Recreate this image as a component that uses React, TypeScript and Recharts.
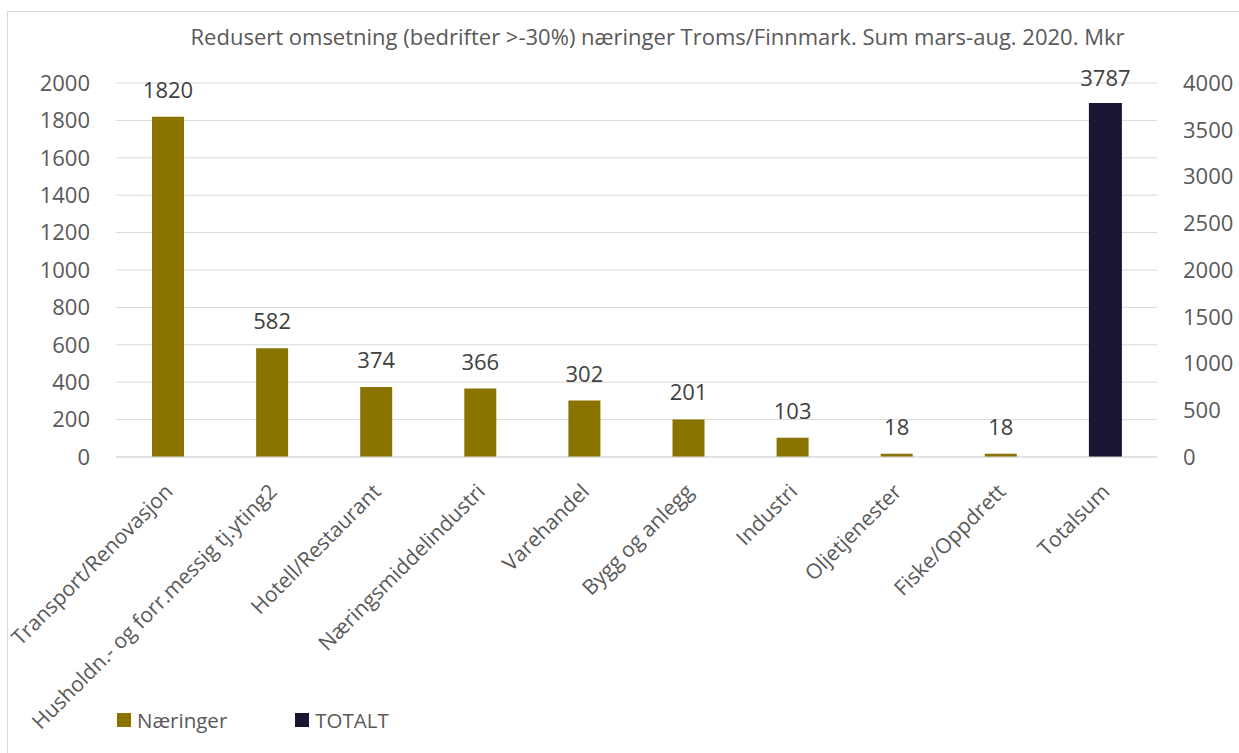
import React from "react";
import {
  BarChart,
  Bar,
  XAxis,
  YAxis,
  CartesianGrid,
  LabelList,
  Legend,
} from "recharts";

// Categories and values
const categories = [
  "Transport/Renovasjon",
  "Husholdn.- og forr.messig tj.yting2",
  "Hotell/Restaurant",
  "Næringsmiddelindustri",
  "Varehandel",
  "Bygg og anlegg",
  "Industri",
  "Oljetjenester",
  "Fiske/Oppdrett",
  "Totalsum",
];
const naeringer: (number | null)[] = [1820, 582, 374, 366, 302, 201, 103, 18, 18, null];
const totalt: (number | null)[] = [null, null, null, null, null, null, null, null, null, 3787];

const leftTicks = [0, 200, 400, 600, 800, 1000, 1200, 1400, 1600, 1800, 2000];
const rightTicks = [0, 500, 1000, 1500, 2000, 2500, 3000, 3500, 4000];

const OLIVE = "#8B7300";
const NAVY = "#1A1533";
const FONT = "'Open Sans', sans-serif";

const data = categories.map((name, i) => ({
  name,
  Næringer: naeringer[i],
  TOTALT: totalt[i],
}));

const CategoryTick = ({ x, y, payload }: any) => (
  <g transform={`translate(${x + 6},${y + 28})`}>
    <text
      textAnchor="end"
      transform="rotate(-45)"
      fill="#595959"
      fontSize={21}
      fontFamily={FONT}
    >
      {payload.value}
    </text>
  </g>
);

const LegendContent = () => (
  <div
    style={{
      display: "flex",
      fontFamily: FONT,
      fontSize: 20.5,
      color: "#595959",
      alignItems: "center",
    }}
  >
    <span style={{ display: "inline-block", width: 14, height: 14, background: OLIVE, marginRight: 6 }} />
    <span style={{ marginRight: 68 }}>Næringer</span>
    <span style={{ display: "inline-block", width: 14, height: 14, background: NAVY, marginRight: 6 }} />
    <span>TOTALT</span>
  </div>
);

export default function App() {
  return (
    <div
      style={{
        position: "fixed",
        left: 0,
        top: 0,
        width: 1239,
        height: 753,
        background: "#fff",
        overflow: "hidden",
      }}
    >
      <div
        style={{
          position: "absolute",
          left: 7,
          top: 11,
          width: 1260,
          height: 760,
          borderLeft: "1px solid #d9d9d9",
          borderTop: "1px solid #d9d9d9",
        }}
      />
      <div
        style={{
          position: "absolute",
          left: 0,
          top: 21,
          width: 1315,
          textAlign: "center",
          fontFamily: FONT,
          fontSize: 22,
          color: "#595959",
          whiteSpace: "nowrap",
        }}
      >
        Redusert omsetning (bedrifter &gt;-30%) næringer Troms/Finnmark. Sum mars-aug. 2020. Mkr
      </div>
      <div style={{ position: "absolute", left: 0, top: 0 }}>
        <BarChart
          width={1239}
          height={753}
          data={data}
          margin={{ top: 83, right: 0, left: 0, bottom: 0 }}
        >
          <CartesianGrid vertical={false} stroke="#d9d9d9" yAxisId="left" xAxisId="main" />
          <XAxis
            xAxisId="main"
            dataKey="name"
            interval={0}
            tickLine={false}
            axisLine={{ stroke: "#d9d9d9" }}
            height={268}
            tick={<CategoryTick />}
          />
          <XAxis xAxisId="tot" dataKey="name" hide />
          <YAxis
            yAxisId="left"
            orientation="left"
            width={116}
            domain={[0, 2000]}
            ticks={leftTicks}
            interval={0}
            tickLine={false}
            axisLine={false}
            tickSize={0}
            tickMargin={26}
            tick={{ fill: "#595959", fontSize: 22, fontFamily: FONT }}
          />
          <YAxis
            yAxisId="right"
            orientation="right"
            width={82}
            domain={[0, 4000]}
            ticks={rightTicks}
            interval={0}
            tickLine={false}
            axisLine={false}
            tickSize={0}
            tickMargin={26}
            tick={{ fill: "#595959", fontSize: 22, fontFamily: FONT, textAnchor: "start" }}
          />
          <Legend
            content={<LegendContent />}
            wrapperStyle={{ position: "absolute", left: 117, top: 706, width: 400 }}
          />
          <Bar
            xAxisId="main"
            yAxisId="left"
            dataKey="Næringer"
            fill={OLIVE}
            barSize={32}
            isAnimationActive={false}
          >
            <LabelList
              dataKey="Næringer"
              position="top"
              offset={19}
              fill="#404040"
              fontSize={22}
              fontFamily={FONT}
            />
          </Bar>
          <Bar
            xAxisId="tot"
            yAxisId="right"
            dataKey="TOTALT"
            fill={NAVY}
            barSize={33}
            isAnimationActive={false}
          >
            <LabelList
              dataKey="TOTALT"
              position="top"
              offset={17}
              fill="#404040"
              fontSize={22}
              fontFamily={FONT}
            />
          </Bar>
        </BarChart>
      </div>
    </div>
  );
}
